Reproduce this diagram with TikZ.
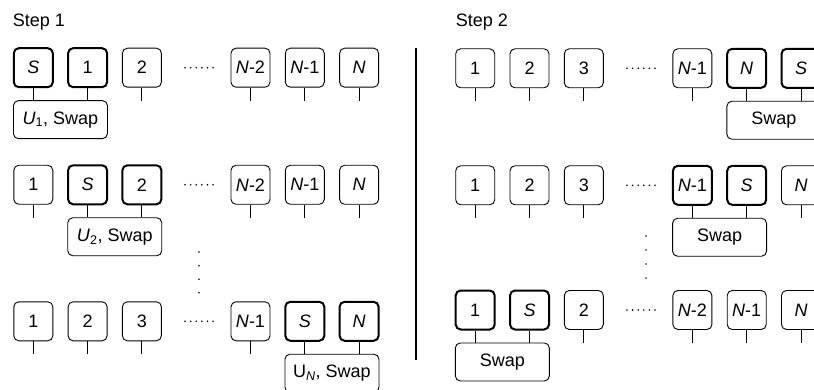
\documentclass[tikz,border=0pt]{standalone}
\usepackage{fontspec}
\setmainfont{Liberation Sans}
\tikzset{
  qbit/.style={draw, rounded corners=5pt, minimum width=39pt, minimum height=39pt,
               inner sep=0pt, line width=0.9pt},
  qbitact/.style={qbit, line width=2pt},
  gate/.style={draw, rounded corners=5pt, minimum width=94pt, minimum height=38pt,
               inner sep=0pt, line width=0.9pt, anchor=north},
  wire/.style={line width=0.9pt},
  label/.style={anchor=base west, inner sep=0pt}
}
% small dot used for the ellipses
\newcommand{\hdots}[2]{\foreach \i in {0,...,5} \fill ({#1-14+5.6*\i},#2) circle (0.9pt);}
\begin{document}
\begin{tikzpicture}[x=1pt, y=-1pt, font=\fontsize{18}{21}\selectfont]
\path[use as bounding box] (0,0) rectangle (814,390);
\clip (0,0) rectangle (814,390);

% ---------------- Step 1 ----------------
\node[label] (t1) at (12.7,26.7) {Step 1};

% row 1
\foreach \k/\lab/\sty in {0/\textit{S}/qbitact, 1/1/qbitact, 2/2/qbit,
    4/\textit{N}-2/qbit, 5/\textit{N}-1/qbit, 6/\textit{N}/qbit}
  \node[\sty] (L1-\k) at ({33.3+54.3*\k},67.7) {\lab};
\hdots{199}{67.7}
\foreach \k in {2,4,5,6} \draw[wire] (L1-\k.south) -- ++(0,13);
\node[gate] (G1) at ({33.3+54.3*0.5},100.2) {\textit{U}\textsubscript{1}, Swap};
\foreach \k in {0,1} \draw[wire] (L1-\k.south) -- (L1-\k.south |- G1.north);

% row 2
\foreach \k/\lab/\sty in {0/1/qbit, 1/\textit{S}/qbitact, 2/2/qbitact,
    4/\textit{N}-2/qbit, 5/\textit{N}-1/qbit, 6/\textit{N}/qbit}
  \node[\sty] (L2-\k) at ({33.3+54.3*\k},184.8) {\lab};
\hdots{199}{184.8}
\foreach \k in {0,4,5,6} \draw[wire] (L2-\k.south) -- ++(0,13);
\node[gate] (G2) at ({33.3+54.3*1.5},217.3) {\textit{U}\textsubscript{2}, Swap};
\foreach \k in {1,2} \draw[wire] (L2-\k.south) -- (L2-\k.south |- G2.north);

% vertical ellipsis
\foreach \yy in {252,265.7,279.3,292.7} \fill (199,\yy) circle (0.9pt);

% row 3
\foreach \k/\lab/\sty in {0/1/qbit, 1/2/qbit, 2/3/qbit,
    4/\textit{N}-1/qbit, 5/\textit{S}/qbitact, 6/\textit{N}/qbitact}
  \node[\sty] (L3-\k) at ({33.3+54.3*\k},321.3) {\lab};
\hdots{199}{321.3}
\foreach \k in {0,1,2,4} \draw[wire] (L3-\k.south) -- ++(0,13);
\node[gate] (G3) at ({33.3+54.3*5.5},353.8) {U\textsubscript{\textit{N}}, Swap};
\foreach \k in {5,6} \draw[wire] (L3-\k.south) -- (L3-\k.south |- G3.north);

% divider
\coordinate (d1) at (416,48);
\coordinate (d2) at (416,360);
\draw[line width=1.2pt] (d1) -- (d2);

% ---------------- Step 2 ----------------
\node[label] (t2) at (455.7,26.7) {Step 2};

% row 1
\foreach \k/\lab/\sty in {0/1/qbit, 1/2/qbit, 2/3/qbit,
    4/\textit{N}-1/qbit, 5/\textit{N}/qbitact, 6/\textit{S}/qbitact}
  \node[\sty] (R1-\k) at ({475.2+54.3*\k},68.3) {\lab};
\hdots{641}{68.3}
\foreach \k in {0,1,2,4} \draw[wire] (R1-\k.south) -- ++(0,13);
\node[gate] (H1) at ({475.2+54.3*5.5},100.8) {Swap};
\foreach \k in {5,6} \draw[wire] (R1-\k.south) -- (R1-\k.south |- H1.north);

% row 2
\foreach \k/\lab/\sty in {0/1/qbit, 1/2/qbit, 2/3/qbit,
    4/\textit{N}-1/qbitact, 5/\textit{S}/qbitact, 6/\textit{N}/qbit}
  \node[\sty] (R2-\k) at ({475.2+54.3*\k},185.3) {\lab};
\hdots{641}{185.3}
\foreach \k in {0,1,2,6} \draw[wire] (R2-\k.south) -- ++(0,13);
\node[gate] (H2) at ({475.2+54.3*4.5},217.8) {Swap};
\foreach \k in {4,5} \draw[wire] (R2-\k.south) -- (R2-\k.south |- H2.north);

% vertical ellipsis
\foreach \yy in {236,250,264,278} \fill (646,\yy) circle (0.9pt);

% row 3
\foreach \k/\lab/\sty in {0/1/qbitact, 1/\textit{S}/qbitact, 2/2/qbit,
    4/\textit{N}-2/qbit, 5/\textit{N}-1/qbit, 6/\textit{N}/qbit}
  \node[\sty] (R3-\k) at ({475.2+54.3*\k},310) {\lab};
\hdots{641}{310}
\foreach \k in {2,4,5,6} \draw[wire] (R3-\k.south) -- ++(0,13);
\node[gate] (H3) at ({475.2+54.3*0.5},342.5) {Swap};
\foreach \k in {0,1} \draw[wire] (R3-\k.south) -- (R3-\k.south |- H3.north);
\end{tikzpicture}
\end{document}
